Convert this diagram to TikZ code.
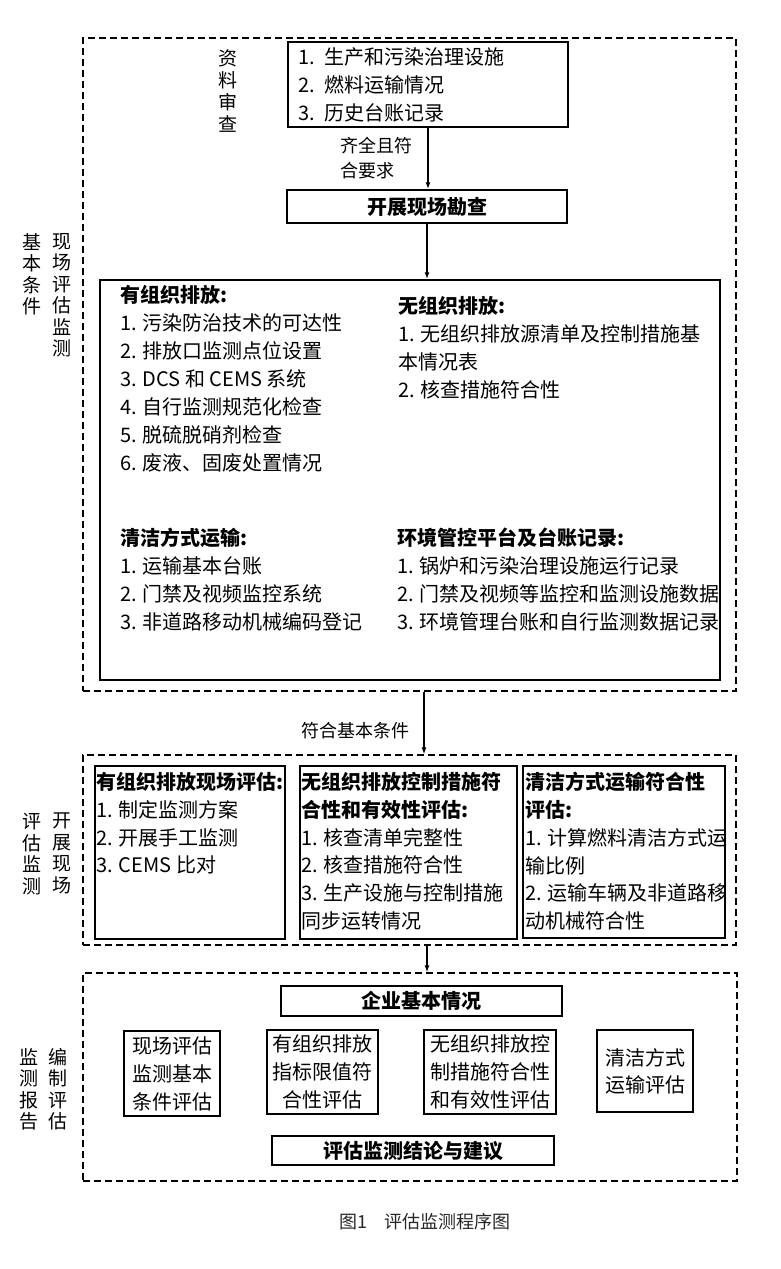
\documentclass[tikz,border=0pt]{standalone}
\usepackage{fontspec}
\setmainfont{Noto Sans CJK SC}
\usetikzlibrary{arrows.meta,positioning}

\begin{document}
\begin{tikzpicture}[x=1pt,y=-1pt,
  frame/.style={draw,dash pattern=on 7pt off 4pt,line width=1.3pt,inner sep=0pt},
  box/.style={draw,line width=1.5pt,inner sep=0pt},
  flow/.style={-{Latex[length=7pt,width=5pt]},line width=1.4pt},
  body/.style={font=\fontsize{20}{28}\selectfont,align=left,inner sep=0pt,anchor=north west},
  cell/.style={box,font=\fontsize{20}{28}\selectfont,align=center},
  side/.style={font=\fontsize{19}{21.5}\selectfont,align=center,inner sep=0pt,anchor=north},
  note/.style={font=\fontsize{18}{25}\selectfont,align=left,inner sep=0pt}]
\useasboundingbox (0,0) rectangle (780,1269);

% dashed stages
\node[frame,minimum width=653pt,minimum height=653pt] (stage1) at (409.5,364.5) {};
\node[frame,minimum width=653pt,minimum height=190pt] (stage2) at (409.5,850) {};
\node[frame,minimum width=654pt,minimum height=208pt] (stage3) at (410,1077) {};

% side labels
\node[side] (lblOneR) at (62,233) {现\\场\\评\\估\\监\\测};
\node[side] (lblOneL) at (32,233) {基\\本\\条\\件};
\node[side] (lblTwoR) at (62,813) {开\\展\\现\\场};
\node[side] (lblTwoL) at (32,813) {评\\估\\监\\测};
\node[side] (lblThreeR) at (58,1048) {编\\制\\评\\估};
\node[side] (lblThreeL) at (29,1048) {监\\测\\报\\告};

% stage 1
\node[side,font=\fontsize{19}{22.3}\selectfont] (lblDocs) at (228,49) {资\\料\\审\\查};
\node[box,minimum width=280pt,minimum height=85pt,font=\fontsize{20}{28}\selectfont,
  align=left,text width=260pt] (docs) at (428,84.5)
  {1. 生产和污染治理设施\\2. 燃料运输情况\\3. 历史台账记录};
\node[box,minimum width=280pt,minimum height=33pt,font=\fontsize{20}{28}\selectfont\bfseries] (survey) at (427,206.5) {开展现场勘查};
\node[box,minimum width=620pt,minimum height=400pt] (siteBox) at (410,480) {};

\node[body] (orgBlock) at (120,285.5) {\textbf{有组织排放:}\\1. 污染防治技术的可达性\\2. 排放口监测点位设置\\3. DCS 和 CEMS 系统\\4. 自行监测规范化检查\\5. 脱硫脱硝剂检查\\6. 废液、固废处置情况};
\node[body] (fugBlock) at (398,296.5) {\textbf{无组织排放:}\\1. 无组织排放源清单及控制措施基\\本情况表\\2. 核查措施符合性};
\node[body] (transBlock) at (120,527.5) {\textbf{清洁方式运输:}\\1. 运输基本台账\\2. 门禁及视频监控系统\\3. 非道路移动机械编码登记};
\node[body] (platBlock) at (397,527.5) {\textbf{环境管控平台及台账记录:}\\1. 锅炉和污染治理设施运行记录\\2. 门禁及视频等监控和监测设施数据\\3. 环境管理台账和自行监测数据记录};

\draw[flow] (docs.south) -- (docs.south |- survey.north)
  node[note,midway,left=15pt] {齐全且符\\合要求};
\draw[flow] (survey.south) -- (survey.south |- siteBox.north);

% stage 2
\coordinate (axisA) at (424,0);
\coordinate (axisB) at (427,0);
\draw[flow] (stage1.south -| axisA) -- (stage2.north -| axisA)
  node[note,pos=0.62,left=14pt] {符合基本条件};

\node[box,minimum width=190pt,minimum height=173pt] (evalOrg) at (190,852.5) {};
\node[box,minimum width=217pt,minimum height=173pt] (evalFug) at (408.5,852.5) {};
\node[box,minimum width=202pt,minimum height=172pt] (evalTrans) at (624,852) {};
\node[body,font=\fontsize{20}{27.8}\selectfont] (orgText) at (96,772) {\textbf{有组织排放现场评估:}\\1. 制定监测方案\\2. 开展手工监测\\3. CEMS 比对};
\node[body,font=\fontsize{20}{27.8}\selectfont] (fugText) at (301,772) {\textbf{无组织排放控制措施符}\\\textbf{合性和有效性评估:}\\1. 核查清单完整性\\2. 核查措施符合性\\3. 生产设施与控制措施\\同步运转情况};
\node[body,font=\fontsize{20}{27.8}\selectfont] (transText) at (525,772) {\textbf{清洁方式运输符合性}\\\textbf{评估:}\\1. 计算燃料清洁方式运\\输比例\\2. 运输车辆及非道路移\\动机械符合性};

% stage 3
\draw[flow] (stage2.south -| axisB) -- (stage3.north -| axisB);

\node[box,minimum width=281pt,minimum height=30pt,font=\fontsize{20}{28}\selectfont\bfseries] (firm) at (421.5,1001) {企业基本情况};
\node[cell,minimum width=96pt,minimum height=85pt] (repSite) at (172,1073.5) {现场评估\\监测基本\\条件评估};
\node[cell,minimum width=111pt,minimum height=84pt] (repOrg) at (322.5,1072) {有组织排放\\指标限值符\\合性评估};
\node[cell,minimum width=132pt,minimum height=84pt] (repFug) at (490,1072) {无组织排放控\\制措施符合性\\和有效性评估};
\node[cell,minimum width=96pt,minimum height=82pt,font=\fontsize{20}{27}\selectfont] (repTrans) at (645,1071) {清洁方式\\运输评估};
\node[box,minimum width=282pt,minimum height=29pt,font=\fontsize{20}{28}\selectfont\bfseries] (advice) at (413,1150.5) {评估监测结论与建议};

\node[font=\fontsize{18}{18}\selectfont,text=black!85] (caption) at (425,1222) {图1\quad 评估监测程序图};

\end{tikzpicture}
\end{document}
